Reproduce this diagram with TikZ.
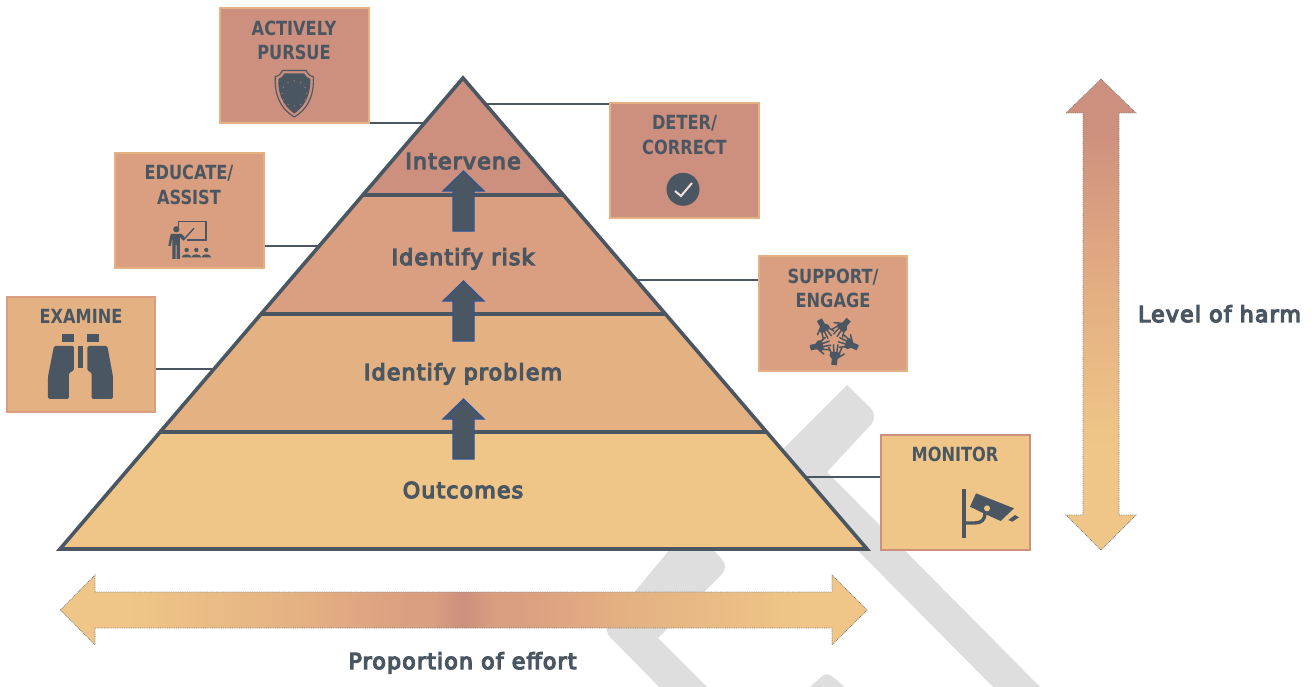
\documentclass[tikz,border=0pt]{standalone}
\usepackage{fontspec}
\setmainfont{DejaVu Sans}
\newfontfamily\boxfont[FakeStretch=0.83]{DejaVu Sans Bold}
\newfontfamily\labfont[FakeBold=6,LetterSpace=5.5]{DejaVu Sans}
\definecolor{cA}{HTML}{CD8F7E}
\definecolor{cB}{HTML}{DA9F80}
\definecolor{cC}{HTML}{E4B183}
\definecolor{cD}{HTML}{EFC687}
\definecolor{dark}{HTML}{4A5661}
\definecolor{wm}{HTML}{DEDEDE}
\definecolor{arrowblue}{HTML}{2F5597}
\pgfdeclarehorizontalshading{effortshade}{100bp}{color(0bp)=(cD); color(29bp)=(cD); color(40bp)=(cC); color(46.5bp)=(cB); color(48bp)=(cB); color(50bp)=(cA); color(52bp)=(cB); color(53.5bp)=(cB); color(60bp)=(cC); color(71bp)=(cD); color(100bp)=(cD)}
\pgfdeclareverticalshading{harmshade}{100bp}{color(0bp)=(cD); color(36bp)=(cD); color(51bp)=(cC); color(61bp)=(cB); color(70bp)=(cA); color(100bp)=(cA)}
\tikzset{
  boxst/.style={draw,line width=1.6pt,minimum width=148.5pt,minimum height=114.5pt,inner sep=0pt},
  boxtext/.style={text=dark,align=center,inner sep=0pt,font=\boxfont\fontsize{19.5}{24.5}\selectfont},
  lab/.style={text=dark,inner sep=0pt,anchor=base,font=\labfont\fontsize{22}{24}\selectfont},
  conn/.style={draw=dark,line width=2.2pt},
  pyr/.style={draw=dark,line width=3.6pt,line join=miter},
  blockarrow/.style={fill=dark,draw=arrowblue,line width=1.2pt},
  bigoutline/.style={draw=gray,line width=.8pt,densely dotted},
  wmark/.style={fill=wm,draw=none,rounded corners=12pt}
}
\begin{document}
\begin{tikzpicture}[x=1pt,y=-1pt]
\useasboundingbox (0,0) rectangle (1316,687);
\clip (0,0) rectangle (1316,687);
% watermark chevrons
\fill[wmark] (847,385) -- (879,416) [sharp corners] -- (827,472) -- (1050,697) -- (1003,697) -- (770,462) -- cycle;
\fill[wm,rounded corners=10pt] (690,525) -- (729,567) [sharp corners] -- (658,638) -- (720,700) -- (672,700) [rounded corners=10pt] -- (603,630) -- cycle;
\fill[wm,rounded corners=6pt] (827,672) -- (860,700) -- (795,700) -- cycle;
% pyramid tiers
\coordinate (apex) at (463,78);
\coordinate (bl) at (60,549);
\coordinate (br) at (867,549);
\coordinate (l1) at (363,195);
\coordinate (r1) at (563,195);
\coordinate (l2) at (261,314);
\coordinate (r2) at (665,314);
\coordinate (l3) at (160,432);
\coordinate (r3) at (766,432);
\fill[cA] (apex) -- (r1) -- (l1) -- cycle;
\fill[cB] (l1) -- (r1) -- (r2) -- (l2) -- cycle;
\fill[cC] (l2) -- (r2) -- (r3) -- (l3) -- cycle;
\fill[cD] (l3) -- (r3) -- (br) -- (bl) -- cycle;
\draw[pyr] (l1) -- (r1);
\draw[pyr] (l2) -- (r2);
\draw[pyr] (l3) -- (r3);
\draw[pyr] (apex) -- (br) -- (bl) -- cycle;
% block arrows
\foreach \dy in {0,110,228}{
  \draw[blockarrow,shift={(0,\dy)}] (463.5,171) -- (484,191) -- (474,191) -- (474,231) -- (453,231) -- (453,191) -- (443,191) -- cycle;
}
% tier labels
\node[lab] (tierA) at (463,169) {Intervene};
\node[lab] (tierB) at (463,265) {Identify risk};
\node[lab] (tierC) at (463,380) {Identify problem};
\node[lab] (tierD) at (463,498) {Outcomes};
% boxes
\node[boxst,fill=cA,draw=cC] (pursue) at (294.5,65.5) {};
\node[boxst,fill=cB,draw=cC] (educate) at (189.5,210.5) {};
\node[boxst,fill=cC,draw=cB] (examine) at (81,354.5) {};
\node[boxst,fill=cA,draw=cC] (deter) at (684.5,160.5) {};
\node[boxst,fill=cB,draw=cC] (support) at (833,313.5) {};
\node[boxst,fill=cD,draw=cA] (monitor) at (955.5,492.5) {};
\node[boxtext] (tPursue) at (294,40.5) {ACTIVELY\\PURSUE};
\node[boxtext] (tEducate) at (189,185) {EDUCATE/\\ASSIST};
\node[boxtext] (tExamine) at (81,316.5) {EXAMINE};
\node[boxtext] (tDeter) at (684.5,135) {DETER/\\CORRECT};
\node[boxtext] (tSupport) at (833,288.5) {SUPPORT/\\ENGAGE};
\node[boxtext] (tMonitor) at (955,454.5) {MONITOR};
% connectors
\coordinate (cPursue) at (425,123);
\coordinate (cDeter) at (486,104);
\coordinate (cEducate) at (319,246);
\coordinate (cExamine) at (213,369);
\coordinate (cSupport) at (637,280);
\coordinate (cMonitor) at (806,477);
\draw[conn] (cPursue) -- (cPursue -| pursue.east);
\draw[conn] (cDeter) -- (cDeter -| deter.west);
\draw[conn] (cEducate) -- (cEducate -| educate.east);
\draw[conn] (cExamine) -- (cExamine -| examine.east);
\draw[conn] (cSupport) -- (cSupport -| support.west);
\draw[conn] (cMonitor) -- (cMonitor -| monitor.west);
% shield
\begin{scope}[shift={(294.3,93.5)}]
\draw[dark,line width=1.1pt,line join=round] (-12,-23) -- (12,-23) .. controls (13,-20) and (16,-17) .. (19,-17) .. controls (20,-2) and (16,14) .. (0,23.5) .. controls (-16,14) and (-20,-2) .. (-19,-17) .. controls (-16,-17) and (-13,-20) .. (-12,-23) -- cycle;
\fill[dark] (-10,-20) -- (10,-20) .. controls (11,-17.5) and (13,-15.5) .. (16,-14.5) .. controls (16.5,-2) and (13,11) .. (0,20) .. controls (-13,11) and (-16.5,-2) .. (-16,-14.5) .. controls (-13,-15.5) and (-11,-17.5) .. (-10,-20) -- cycle;
\foreach \a in {0,30,...,330}{\fill[cA!70!dark] (\a:12.5) circle (.7);}
\end{scope}
% teacher
\begin{scope}[x=.3333pt,y=-.3333pt]
\draw[dark,line width=1.1pt] (535,680) -- (535,665) -- (618,665) -- (618,720) -- (560,720);
\draw[dark,line width=1.4pt] (550,720) -- (582,685);
\fill[dark] (529,688) circle (9.5);
\fill[dark] (512,702) -- (545,702) -- (556,714) -- (550,722) -- (540,712) -- (540,777) -- (530,777) -- (530,735) -- (527,735) -- (527,777) -- (517,777) -- (517,712) -- (513,738) -- (505,738) -- cycle;
\foreach \x in {560,589,619}{
  \fill[dark] (\x,750) circle (6.5);
  \fill[dark] (\x-15,772) .. controls (\x-13,760) and (\x+13,760) .. (\x+15,772) -- cycle;
}
\end{scope}
% binoculars
\begin{scope}[x=.3333pt,y=-.3333pt]
\fill[dark] (185,1003) rectangle (222,1026);
\fill[dark] (262,1003) rectangle (298,1026);
\fill[dark] (233,1038) rectangle (250,1105);
\fill[dark,rounded corners=1.5pt] (162,1038) -- (222,1038) -- (222,1112) -- (207,1118) -- (207,1197) -- (144,1197) -- (144,1130) -- cycle;
\fill[dark,rounded corners=1.5pt] (262,1038) -- (322,1038) -- (339,1130) -- (339,1197) -- (275,1197) -- (275,1118) -- (262,1112) -- cycle;
\end{scope}
% check
\fill[dark] (683,189.3) circle (16.5);
\draw[cA!25!white,line width=2pt] (675,191) -- (681,196) -- (692,183);
% hands
\foreach \r in {0,72,144,216,288}{
\begin{scope}[shift={(834,340)},rotate=\r,shift={(0,25)},rotate=-6]
  \fill[dark] (-2.8,0) -- (2.8,0) -- (2.8,-6) -- (5.5,-9) -- (5,-13) -- (-5,-13) -- (-5.5,-9) -- (-2.8,-6) -- cycle;
  \draw[dark,line width=1.5pt,line cap=round] (-4.2,-12) -- (-7,-17) (-1.5,-12.5) -- (-2.5,-20) (1.5,-12.5) -- (1.8,-20.5) (4,-12) -- (6,-18) (4.5,-8.5) -- (9,-12);
\end{scope}
}
% camera
\begin{scope}[shift={(940,480)},x=.3333pt,y=-.3333pt]
\fill[dark] (66,28) rectangle (78,175);
\draw[dark,line width=3.4pt] (78,129) -- (105,129) .. controls (125,129) and (135,118) .. (135,100);
\fill[dark] (108,40) -- (222,85) -- (182,123) -- (135,102) -- (90,80) -- cycle;
\fill[cD] (141,85) circle (9);
\fill[dark] (205,120) -- (225,105) -- (237,112) -- (217,125) -- cycle;
\end{scope}
% big arrows
\shade[shading=harmshade] (1101,79) -- (1136,113) -- (1119,113) -- (1119,515) -- (1136,515) -- (1101,550) -- (1066,515) -- (1083,515) -- (1083,113) -- (1066,113) -- cycle;
\draw[bigoutline] (1101,79) -- (1136,113) -- (1119,113) -- (1119,515) -- (1136,515) -- (1101,550) -- (1066,515) -- (1083,515) -- (1083,113) -- (1066,113) -- cycle;
\shade[shading=effortshade] (60.5,610) -- (95,575) -- (95,592) -- (832,592) -- (832,575) -- (867,610) -- (832,645) -- (832,628) -- (95,628) -- (95,645) -- cycle;
\draw[bigoutline] (60.5,610) -- (95,575) -- (95,592) -- (832,592) -- (832,575) -- (867,610) -- (832,645) -- (832,628) -- (95,628) -- (95,645) -- cycle;
\node[lab] (harm) at (1219.5,322) {Level of harm};
\node[lab] (effort) at (462.5,669) {Proportion of effort};
\end{tikzpicture}
\end{document}
